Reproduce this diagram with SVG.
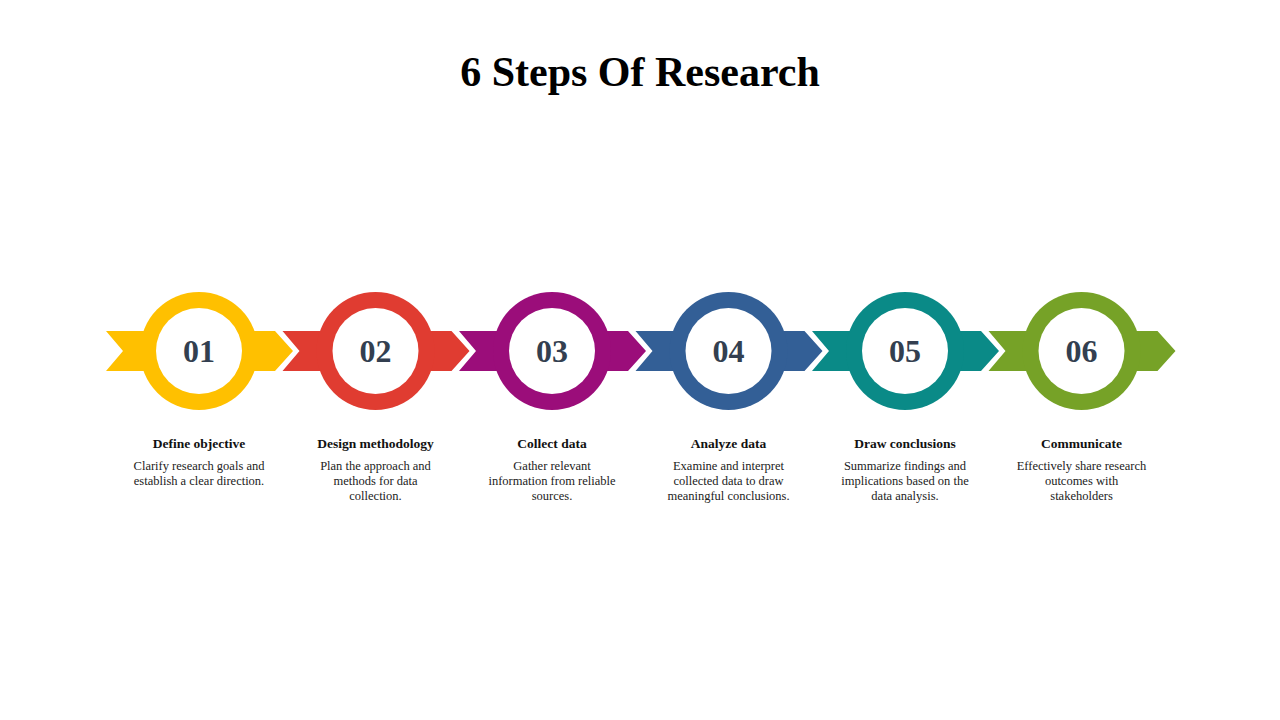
<svg xmlns="http://www.w3.org/2000/svg" width="1280" height="720" viewBox="0 0 1280 720">
<style>
.num{font-family:"Liberation Serif",serif;font-weight:bold;font-size:32px;fill:#333f50;text-anchor:middle}
.h{font-family:"Liberation Serif",serif;font-weight:bold;font-size:13.5px;fill:#111;text-anchor:middle}
.d{font-family:"Liberation Serif",serif;font-size:12.5px;fill:#222;text-anchor:middle}
</style>
<defs>
<g id="shape">
<path d="M-93,-20 L76,-20 L94,0 L76,20 L-93,20 L-76,0 Z"/>
<circle r="59"/>
</g>
</defs>
<rect width="1280" height="720" fill="#fff"/>
<text x="640" y="86" font-family="Liberation Serif,serif" font-weight="bold" font-size="42" text-anchor="middle" fill="#000">6 Steps Of Research</text>
<g id="step1" transform="translate(199,351)"><use href="#shape" fill="#ffc000"/><circle r="43" fill="#fff"/><text class="num" y="11">01</text>
<text class="h" y="97">Define objective</text><text class="d" y="119">Clarify research goals and</text><text class="d" y="134">establish a clear direction.</text></g>
<g id="step2" transform="translate(375.5,351)"><use href="#shape" fill="#e03c31"/><circle r="43" fill="#fff"/><text class="num" y="11">02</text>
<text class="h" y="97">Design methodology</text><text class="d" y="119">Plan the approach and</text><text class="d" y="134">methods for data</text><text class="d" y="149">collection.</text></g>
<g id="step3" transform="translate(552,351)"><use href="#shape" fill="#9b0d7a"/><circle r="43" fill="#fff"/><text class="num" y="11">03</text>
<text class="h" y="97">Collect data</text><text class="d" y="119">Gather relevant</text><text class="d" y="134">information from reliable</text><text class="d" y="149">sources.</text></g>
<g id="step4" transform="translate(728.5,351)"><use href="#shape" fill="#335f96"/><circle r="43" fill="#fff"/><text class="num" y="11">04</text>
<text class="h" y="97">Analyze data</text><text class="d" y="119">Examine and interpret</text><text class="d" y="134">collected data to draw</text><text class="d" y="149">meaningful conclusions.</text></g>
<g id="step5" transform="translate(905,351)"><use href="#shape" fill="#0a8a87"/><circle r="43" fill="#fff"/><text class="num" y="11">05</text>
<text class="h" y="97">Draw conclusions</text><text class="d" y="119">Summarize findings and</text><text class="d" y="134">implications based on the</text><text class="d" y="149">data analysis.</text></g>
<g id="step6" transform="translate(1081.5,351)"><use href="#shape" fill="#76a227"/><circle r="43" fill="#fff"/><text class="num" y="11">06</text>
<text class="h" y="97">Communicate</text><text class="d" y="119">Effectively share research</text><text class="d" y="134">outcomes with</text><text class="d" y="149">stakeholders</text></g>
<g id="connectors"/>
</svg>
